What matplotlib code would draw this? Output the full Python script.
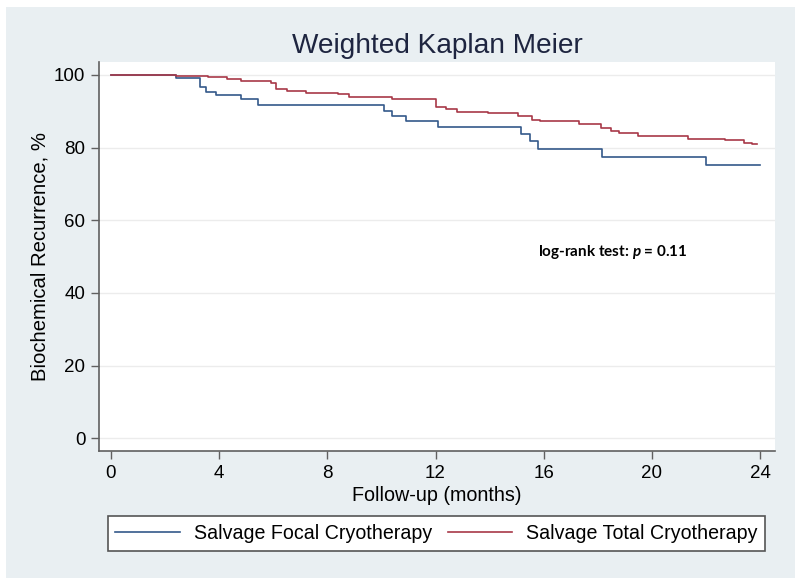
import matplotlib
matplotlib.use('Agg')
import matplotlib.pyplot as plt
from matplotlib.patches import Rectangle

plt.rcParams['font.family'] = ['Liberation Sans', 'DejaVu Sans']
plt.rcParams['mathtext.fontset'] = 'custom'
plt.rcParams['mathtext.it'] = 'Lato:italic:bold'
plt.rcParams['mathtext.rm'] = 'Lato:bold'

# step curves (months, % free of recurrence)
focal_t = [0, 2.4, 3.3, 3.5, 3.9, 4.8, 5.45, 10.1, 10.4, 10.9, 12.1,
           15.15, 15.5, 15.8, 18.15, 22.0, 24.0]
focal_s = [100, 99.1, 96.8, 95.4, 94.5, 93.3, 91.6, 90.2, 88.6, 87.2, 85.6,
           83.8, 81.7, 79.6, 77.3, 75.1, 75.1]

total_t = [0, 2.4, 3.6, 4.3, 4.8, 5.9, 6.1, 6.5, 7.2, 8.4, 8.8, 9.5, 10.4,
           12.0, 12.4, 12.8, 13.95, 15.06, 15.55, 15.87, 17.3, 18.1, 18.5,
           18.8, 19.5, 21.35, 22.7, 23.4, 23.7, 23.9]
total_s = [100, 99.8, 99.5, 98.9, 98.4, 97.7, 96.1, 95.6, 95.1, 94.8, 94.0,
           93.8, 93.3, 91.1, 90.6, 89.9, 89.5, 88.6, 87.6, 87.2, 86.5, 85.4,
           84.6, 84.0, 83.1, 82.4, 82.0, 81.4, 81.0, 81.0]

labels = ['Salvage Focal Cryotherapy', 'Salvage Total Cryotherapy']
colors = ['#34598a', '#a83848']
xticks = [0, 4, 8, 12, 16, 20, 24]
yticks = [0, 20, 40, 60, 80, 100]

fig = plt.figure(figsize=(8, 5.85), dpi=100, facecolor='white')
# stata style grey-blue panel behind everything
fig.patches.append(Rectangle((6/800, 1 - 578/585), 789/800, 571/585,
                             transform=fig.transFigure, facecolor='#e9eff2',
                             edgecolor='none', zorder=-10))

ax = fig.add_axes([99.3/800, 1 - 450.7/585, 675.7/800, 389/585])
ax.set_facecolor('white')

ax.plot(focal_t, focal_s, drawstyle='steps-post', color=colors[0], lw=1.2, label=labels[0])
ax.plot(total_t, total_s, drawstyle='steps-post', color=colors[1], lw=1.2, label=labels[1])

ax.set_xlim(-0.43, 24.55)
ax.set_ylim(-3.4, 103.65)
ax.set_xticks(xticks)
ax.set_yticks(yticks)
ax.yaxis.grid(True, color='#ececec', lw=1)
ax.set_axisbelow(True)

for s in ['top', 'right']:
    ax.spines[s].set_visible(False)
for s in ['left', 'bottom']:
    ax.spines[s].set_color('#606060')
    ax.spines[s].set_linewidth(1.2)
ax.tick_params(direction='out', length=6, width=1, color='#606060',
               labelsize=13.5, pad=4)

ax.set_title('Weighted Kaplan Meier', fontsize=20.2, color='#1e2540', pad=6)
ax.set_xlabel('Follow-up (months)', fontsize=14.2, labelpad=3)
ax.set_ylabel('Biochemical Recurrence, %', fontsize=14.6, labelpad=3)

ax.text(15.8, 51.3, 'log-rank test: $p$ = 0.11', fontsize=11,
        family='Lato', weight='bold', ha='left', va='center')

leg = fig.legend(loc='center', bbox_to_anchor=(436.5/800, 1 - 533.5/585),
                 ncol=2, fontsize=14.1, handlelength=3.3, handletextpad=0.7,
                 columnspacing=0.8, fancybox=False, framealpha=1,
                 edgecolor='#555555', borderpad=0.4, borderaxespad=0)
leg.get_frame().set_linewidth(1.2)

fig.savefig('out.png', dpi=100, facecolor='white')
